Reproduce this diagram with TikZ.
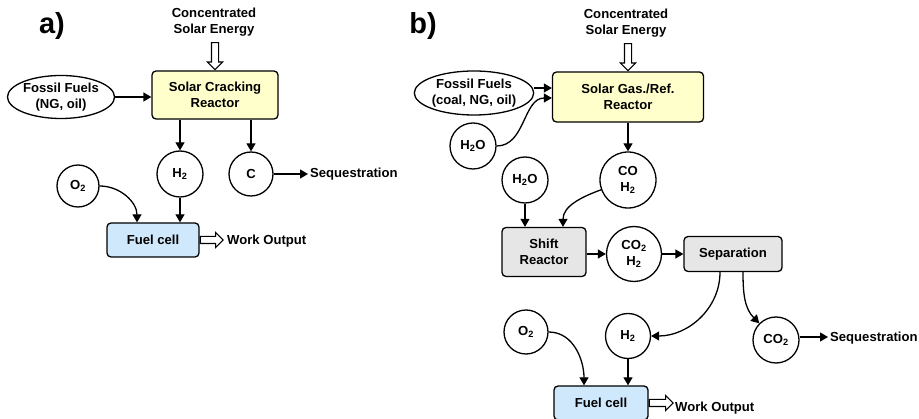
\documentclass[tikz,border=0pt]{standalone}
\usepackage{fontspec}
\setmainfont{Liberation Sans}
\usetikzlibrary{arrows.meta,shapes.geometric,shapes.arrows}
\definecolor{reactoryellow}{RGB}{255,255,204}
\definecolor{cellblue}{RGB}{207,232,252}
\definecolor{shiftgray}{RGB}{230,230,230}
\begin{document}
\begin{tikzpicture}[x=1pt,y=-1pt,
  every node/.style={font=\fontsize{13.1}{16.5}\selectfont\bfseries, align=center},
  procbox/.style={draw, line width=1.3pt, rounded corners=4pt, inner sep=0pt},
  species/.style={draw, circle, line width=1.3pt, inner sep=0pt},
  feed/.style={draw, ellipse, line width=1.3pt, inner sep=0pt},
  label/.style={inner sep=2pt},
  panel/.style={font=\fontsize{29}{30}\selectfont\bfseries, inner sep=0pt},
  flow/.style={line width=1.3pt, -{Triangle[length=8pt,width=9pt]}},
  solar/.style={draw, single arrow, line width=1.1pt, fill=white, inner sep=3pt,
    minimum width=14pt, minimum height=27pt, single arrow head extend=4pt,
    single arrow head indent=0pt},
  workout/.style={solar, minimum height=23pt}
]
\useasboundingbox (0,0) rectangle (919,419);

% ---------------- a) solar cracking route ----------------
\node[panel] (pa) at (52,26) {a)};
\node[label] (sunA) at (214,22) {Concentrated\\Solar Energy};
\node[procbox, fill=reactoryellow, minimum width=126pt, minimum height=48pt] (crack) at (215,95) {Solar Cracking\\Reactor};
\node[solar, rotate=-90, anchor=tip] (sunarrA) at (crack.north) {};
\node[feed, minimum width=107pt, minimum height=43pt] (ffA) at (61,97) {Fossil Fuels\\(NG, oil)};
\node[species, minimum size=46pt] (h2A) at (180,174) {H\textsubscript{2}};
\node[species, minimum size=44pt] (cA) at (251,174) {C};
\node[label, anchor=west] (seqA) at (308,174) {Sequestration};
\node[species, minimum size=42pt] (o2A) at (78,186) {O\textsubscript{2}};
\node[procbox, fill=cellblue, minimum width=92pt, minimum height=34pt] (fcA) at (153,240) {Fuel cell};
\node[workout, anchor=tail] (woarrA) at (fcA.east) {};
\node[label, anchor=west] (woA) at (225,241) {Work Output};

\draw[flow] (ffA.east) -- (crack.west |- ffA.east);
\draw[flow] (crack.south -| h2A.north) -- (h2A.north);
\draw[flow] (crack.south -| cA.north) -- (cA.north);
\draw[flow] (cA.east) -- (seqA.west);
\draw[flow] (h2A.south) -- (h2A.south |- fcA.north);
\draw[flow] (o2A.east) to[out=0,in=90] (fcA.north -| 137,0);

% ---------------- b) solar gasification / reforming route ----------------
\node[panel] (pb) at (423,26) {b)};
\node[label] (sunB) at (626,23) {Concentrated\\Solar Energy};
\node[procbox, fill=reactoryellow, minimum width=151pt, minimum height=50pt] (gasref) at (628,97) {Solar Gas./Ref.\\Reactor};
\node[solar, rotate=-90, anchor=tip] (sunarrB) at (gasref.north) {};
\node[feed, minimum width=102pt, minimum height=44pt] (ffB) at (474,93) {Fossil Fuels\\(coal, NG, oil)};
\node[species, minimum size=46pt] (h2oA) at (473,146) {H\textsubscript{2}O};
\node[species, minimum size=56pt] (syngas) at (628,180) {CO\\H\textsubscript{2}};
\node[species, minimum size=46pt] (h2oB) at (525,180) {H\textsubscript{2}O};
\node[procbox, fill=shiftgray, minimum width=84pt, minimum height=49pt] (shift) at (544,252) {Shift\\Reactor};
\node[species, minimum size=55pt] (shifted) at (634,254) {CO\textsubscript{2}\\H\textsubscript{2}};
\node[procbox, fill=shiftgray, minimum width=98pt, minimum height=35pt] (sep) at (733,254) {Separation};
\node[species, minimum size=45pt] (h2B) at (628,336) {H\textsubscript{2}};
\node[species, minimum size=46pt] (co2) at (776,340) {CO\textsubscript{2}};
\node[label, anchor=west] (seqB) at (828,338) {Sequestration};
\node[species, minimum size=44pt] (o2B) at (526,332) {O\textsubscript{2}};
\node[procbox, fill=cellblue, minimum width=94pt, minimum height=34pt] (fcB) at (601,403) {Fuel cell};
\node[workout, anchor=tail, minimum height=24pt] (woarrB) at (fcB.east) {};
\node[label, anchor=west] (woB) at (673,408) {Work Output};

\draw[flow] (ffB.east |- 0,88) -- (gasref.west |- 0,88);
\draw[flow] (h2oA.east) to[out=0,in=180] (gasref.west |- 0,98);
\draw[flow] (gasref.south) -- (syngas.north);
\draw[flow] (h2oB.south) -- (shift.north -| h2oB.south);
\draw[flow] (syngas.200) to[out=200,in=90] (shift.north -| 563,0);
\draw[flow] (shift.east |- shifted.west) -- (shifted.west);
\draw[flow] (shifted.east) -- (sep.west |- shifted.east);
\draw[flow] (sep.south -| 720,0) to[out=-90,in=0] (h2B.east);
\draw[flow] (sep.south -| 743,0) to[out=-90,in=135] (co2.135);
\draw[flow] (co2.east |- 0,337) -- (seqB.west |- 0,337);
\draw[flow] (h2B.south) -- (h2B.south |- fcB.north);
\draw[flow] (o2B.east) to[out=0,in=90] (fcB.north -| 584,0);
\end{tikzpicture}
\end{document}
